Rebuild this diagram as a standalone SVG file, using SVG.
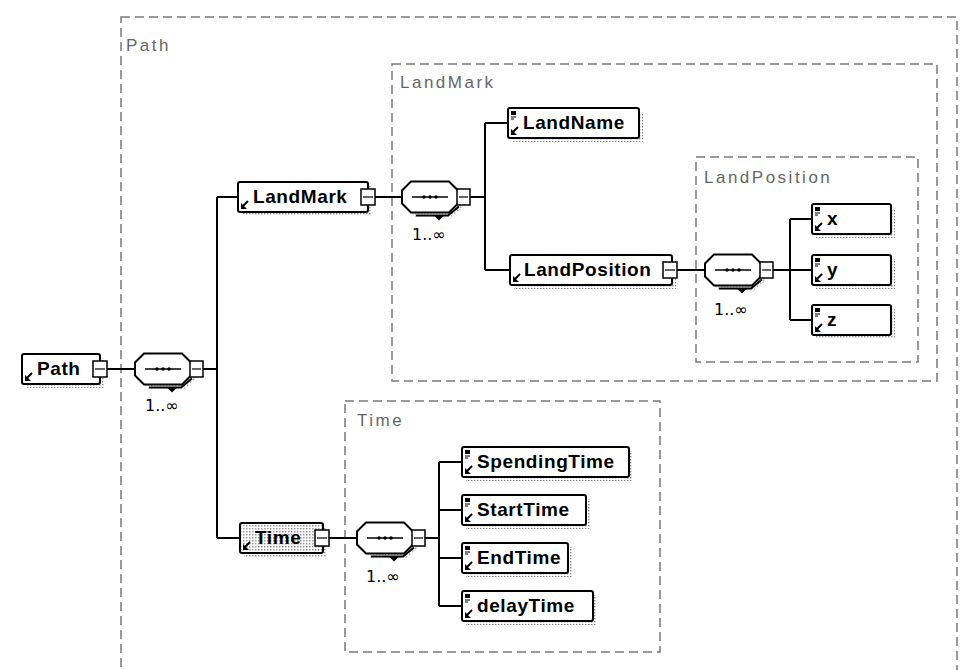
<svg xmlns="http://www.w3.org/2000/svg" width="960" height="670" viewBox="0 0 960 670">
  <style>
    .grp { fill: none; stroke: #7a7a7a; stroke-width: 1.5; stroke-dasharray: 9 5; }
    .gl { font-family: "Liberation Sans", Arial, sans-serif; font-size: 17px; fill: #666; letter-spacing: 2.5px; }
    .el { fill: #fff; stroke: #000; stroke-width: 2; }
    .elg { fill: url(#fillDots); stroke: #000; stroke-width: 2; }
    .sh { fill: url(#dots); }
    .nt { font-family: "Liberation Sans", Arial, sans-serif; font-size: 19px; font-weight: bold; letter-spacing: 0.6px; fill: #000; }
    .card { font-family: "DejaVu Sans", sans-serif; font-size: 16px; fill: #000; }
    .wire { fill: none; stroke: #000; stroke-width: 2; }
    .sq { fill: #fff; stroke: #000; stroke-width: 1.5; }
  </style>
  <defs>
    <pattern id="dots" width="3" height="3" patternUnits="userSpaceOnUse">
      <rect width="1.4" height="1.4" fill="#8a8a8a"/>
    </pattern>
    <pattern id="fillDots" width="3" height="3" patternUnits="userSpaceOnUse">
      <rect width="3" height="3" fill="#fff"/>
      <rect width="1.5" height="1.5" fill="#999"/>
    </pattern>
    <!-- bottom-left marker of an element box (box height 30) -->
    <g id="arrowMark">
      <path d="M10,19 L5,24" stroke="#000" stroke-width="2"/>
      <path d="M3,27 L3,21 L9,27 Z" fill="#000"/>
    </g>
    <!-- top-left marker of a simple-content element -->
    <g id="leafIcon">
      <rect x="3" y="3" width="5" height="4" fill="#000"/>
      <path d="M3,9 H8 M3,11 H6" stroke="#000" stroke-width="1"/>
    </g>
    <!-- expand / collapse square -->
    <g id="expander">
      <rect class="sq" x="0" y="0" width="14" height="16"/>
      <path d="M2,8 H12" stroke="#000" stroke-width="1.2"/>
    </g>
    <!-- sequence compositor, repeated 1..unbounded -->
    <g id="seq">
      <path class="sh" transform="translate(4,4)" d="M9,0 H47 L56,9 V22 L47,31 H9 L0,22 V9 Z"/>
      <path d="M57,25 L46,34 H14" fill="none" stroke="#000" stroke-width="2"/>
      <path d="M32,34 L42,34 L37,39 Z" fill="#000"/>
      <path d="M9,0 H47 L56,9 V22 L47,31 H9 L0,22 V9 Z" fill="#fff" stroke="#000" stroke-width="2"/>
      <path d="M10,15.5 H46" stroke="#000" stroke-width="1.5"/>
      <circle cx="22" cy="15.5" r="1.8"/>
      <circle cx="28" cy="15.5" r="1.8"/>
      <circle cx="34" cy="15.5" r="1.8"/>
      <rect class="sq" x="55" y="7.5" width="13" height="16"/>
      <path d="M57,15.5 H66" stroke="#000" stroke-width="1.2"/>
    </g>
  </defs>

  <rect width="960" height="670" fill="#fff"/>

  <!-- complex type boundaries -->
  <g id="groups">
    <rect class="grp" x="121" y="17" width="836" height="700"/>
    <text class="gl" x="126" y="51">Path</text>
    <rect class="grp" x="392" y="64" width="545" height="317"/>
    <text class="gl" x="400" y="88">LandMark</text>
    <rect class="grp" x="696" y="157" width="222" height="205"/>
    <text class="gl" x="704" y="183">LandPosition</text>
    <rect class="grp" x="345" y="401" width="315" height="251"/>
    <text class="gl" x="357" y="426">Time</text>
  </g>

  <!-- connectors -->
  <g id="connectors">
    <path class="wire" d="M107,369 H135"/>
    <path class="wire" d="M203,369 H217 M217,197 V538 M217,197 H238 M217,538 H240"/>
    <path class="wire" d="M375,197 H402"/>
    <path class="wire" d="M470,197 H485 M485,123 V270 M485,123 H508 M485,270 H510"/>
    <path class="wire" d="M677,270 H705"/>
    <path class="wire" d="M773,270 H790 M790,219 V320 M790,219 H812 M790,270 H812 M790,320 H812"/>
    <path class="wire" d="M329,538 H357"/>
    <path class="wire" d="M425,538 H439 M439,462 V606 M439,462 H462 M439,510 H462 M439,558 H462 M439,606 H462"/>
  </g>

  <!-- compositors -->
  <g id="seq-path">
    <use href="#seq" x="135" y="353.5"/>
    <text class="card" x="145" y="411">1..∞</text>
  </g>
  <g id="seq-landmark">
    <use href="#seq" x="402" y="181.5"/>
    <text class="card" x="412" y="240">1..∞</text>
  </g>
  <g id="seq-landposition">
    <use href="#seq" x="705" y="254.5"/>
    <text class="card" x="714" y="315">1..∞</text>
  </g>
  <g id="seq-time">
    <use href="#seq" x="357" y="522.5"/>
    <text class="card" x="366" y="582">1..∞</text>
  </g>

  <!-- elements -->
  <g id="node-path">
    <rect class="sh" x="26" y="358" width="78" height="30"/>
    <rect class="el" x="22" y="354" width="78" height="30" rx="2"/>
    <use href="#arrowMark" x="22" y="354"/>
    <text class="nt" x="37" y="375">Path</text>
    <use href="#expander" x="93" y="361"/>
  </g>
  <g id="node-landmark">
    <rect class="sh" x="242" y="186" width="130" height="30"/>
    <rect class="el" x="238" y="182" width="130" height="30" rx="2"/>
    <use href="#arrowMark" x="238" y="182"/>
    <text class="nt" x="253" y="203">LandMark</text>
    <use href="#expander" x="361" y="189"/>
  </g>
  <g id="node-landname">
    <rect class="sh" x="512" y="112" width="131" height="30"/>
    <rect class="el" x="508" y="108" width="131" height="30" rx="2"/>
    <use href="#leafIcon" x="508" y="108"/>
    <use href="#arrowMark" x="508" y="108"/>
    <text class="nt" x="523" y="129">LandName</text>
  </g>
  <g id="node-landposition">
    <rect class="sh" x="514" y="259" width="162" height="30"/>
    <rect class="el" x="510" y="255" width="162" height="30" rx="2"/>
    <use href="#arrowMark" x="510" y="255"/>
    <text class="nt" x="524" y="276">LandPosition</text>
    <use href="#expander" x="663" y="262"/>
  </g>
  <g id="node-x">
    <rect class="sh" x="816" y="208" width="79" height="30"/>
    <rect class="el" x="812" y="204" width="79" height="30" rx="2"/>
    <use href="#leafIcon" x="812" y="204"/>
    <use href="#arrowMark" x="812" y="204"/>
    <text class="nt" x="827" y="225">x</text>
  </g>
  <g id="node-y">
    <rect class="sh" x="816" y="259" width="79" height="30"/>
    <rect class="el" x="812" y="255" width="79" height="30" rx="2"/>
    <use href="#leafIcon" x="812" y="255"/>
    <use href="#arrowMark" x="812" y="255"/>
    <text class="nt" x="827" y="276">y</text>
  </g>
  <g id="node-z">
    <rect class="sh" x="816" y="309" width="79" height="30"/>
    <rect class="el" x="812" y="305" width="79" height="30" rx="2"/>
    <use href="#leafIcon" x="812" y="305"/>
    <use href="#arrowMark" x="812" y="305"/>
    <text class="nt" x="827" y="326">z</text>
  </g>
  <g id="node-time">
    <rect class="sh" x="244" y="527" width="83" height="30"/>
    <rect class="elg" x="240" y="523" width="83" height="30" rx="2"/>
    <use href="#arrowMark" x="240" y="523"/>
    <text class="nt" x="255" y="544">Time</text>
    <use href="#expander" x="315" y="530"/>
  </g>
  <g id="node-spendingtime">
    <rect class="sh" x="466" y="451" width="167" height="30"/>
    <rect class="el" x="462" y="447" width="167" height="30" rx="2"/>
    <use href="#leafIcon" x="462" y="447"/>
    <use href="#arrowMark" x="462" y="447"/>
    <text class="nt" x="477" y="468">SpendingTime</text>
  </g>
  <g id="node-starttime">
    <rect class="sh" x="466" y="499" width="124" height="30"/>
    <rect class="el" x="462" y="495" width="124" height="30" rx="2"/>
    <use href="#leafIcon" x="462" y="495"/>
    <use href="#arrowMark" x="462" y="495"/>
    <text class="nt" x="477" y="516">StartTime</text>
  </g>
  <g id="node-endtime">
    <rect class="sh" x="466" y="547" width="106" height="30"/>
    <rect class="el" x="462" y="543" width="106" height="30" rx="2"/>
    <use href="#leafIcon" x="462" y="543"/>
    <use href="#arrowMark" x="462" y="543"/>
    <text class="nt" x="477" y="564">EndTime</text>
  </g>
  <g id="node-delaytime">
    <rect class="sh" x="466" y="595" width="131" height="30"/>
    <rect class="el" x="462" y="591" width="131" height="30" rx="2"/>
    <use href="#leafIcon" x="462" y="591"/>
    <use href="#arrowMark" x="462" y="591"/>
    <text class="nt" x="477" y="612">delayTime</text>
  </g>
</svg>
